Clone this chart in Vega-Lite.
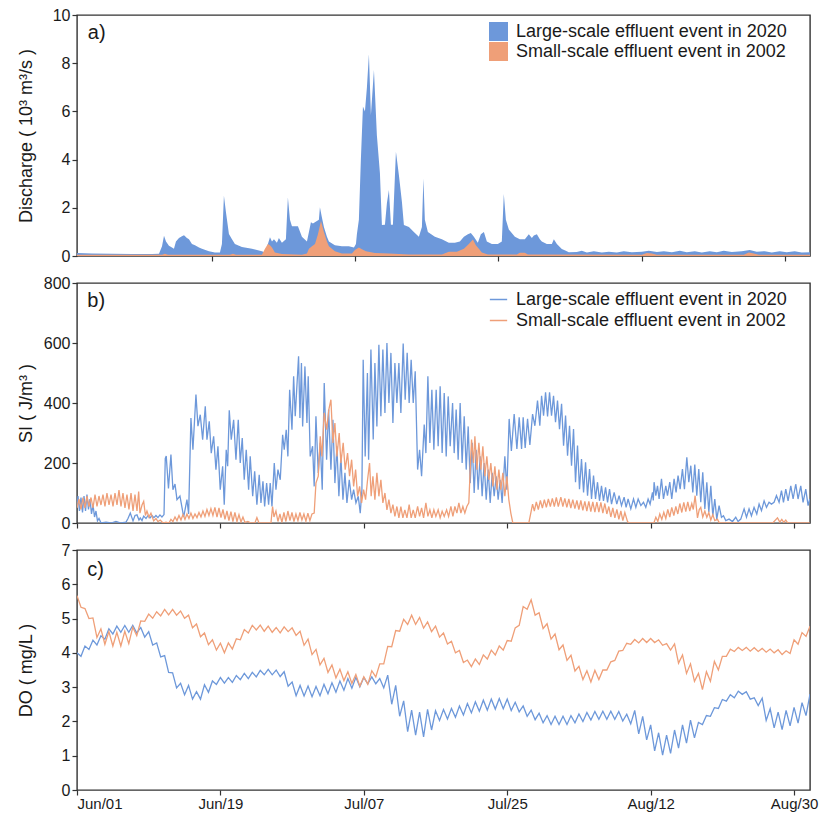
{
"$schema":"https://vega.github.io/schema/vega-lite/v6.json",
"padding":{"left":16,"top":6,"right":8,"bottom":0},
"background":"white",
"config":{"font":"Liberation Sans","view":{"stroke":"#333333","strokeWidth":1.4},
"axis":{"labelFontSize":16,"titleFontSize":18,"labelColor":"#1a1a1a","titleColor":"#1a1a1a","titleFontWeight":"normal","tickColor":"#333333","tickSize":5,"tickWidth":1.2,"domain":false,"grid":false,"labelPadding":2,"labelOverlap":false},
"axisX":{"labelFontSize":15,"labelPadding":1},
"legend":{"labelFontSize":18,"labelColor":"#1a1a1a","padding":0,"labelLimit":400},
"text":{"font":"Liberation Sans"}},
"spacing":27,
"bounds":"flush",
"resolve":{"scale":{"color":"independent","x":"independent","y":"independent"},"legend":{"color":"independent"}},
"datasets":{
"a":[
{"t":1.1,"v":0.12,"s":"L"},{"t":2.98,"v":0.10,"s":"L"},{"t":5.49,"v":0.09,"s":"L"},{"t":8.0,"v":0.08,"s":"L"},{"t":10.51,"v":0.08,"s":"L"},{"t":11.39,"v":0.09,"s":"L"},{"t":11.77,"v":0.4,"s":"L"},{"t":12.02,"v":0.84,"s":"L"},{"t":12.27,"v":0.6,"s":"L"},{"t":12.64,"v":0.43,"s":"L"},{"t":13.02,"v":0.35,"s":"L"},{"t":13.27,"v":0.3,"s":"L"},{"t":13.52,"v":0.6,"s":"L"},{"t":13.9,"v":0.75,"s":"L"},{"t":14.27,"v":0.82,"s":"L"},{"t":14.53,"v":0.86,"s":"L"},{"t":14.9,"v":0.75,"s":"L"},{"t":15.15,"v":0.7,"s":"L"},{"t":15.53,"v":0.5,"s":"L"},{"t":15.91,"v":0.45,"s":"L"},{"t":16.41,"v":0.35,"s":"L"},{"t":16.78,"v":0.3,"s":"L"},{"t":17.66,"v":0.2,"s":"L"},{"t":18.41,"v":0.15,"s":"L"},{"t":19.04,"v":0.15,"s":"L"},{"t":19.29,"v":0.5,"s":"L"},{"t":19.54,"v":2.5,"s":"L"},{"t":19.8,"v":1.8,"s":"L"},{"t":20.17,"v":0.91,"s":"L"},{"t":20.55,"v":0.7,"s":"L"},{"t":20.92,"v":0.5,"s":"L"},{"t":21.8,"v":0.37,"s":"L"},{"t":23.06,"v":0.3,"s":"L"},{"t":24.31,"v":0.2,"s":"L"},{"t":24.69,"v":0.15,"s":"L"},{"t":25.06,"v":0.5,"s":"L"},{"t":25.32,"v":0.78,"s":"L"},{"t":25.57,"v":0.6,"s":"L"},{"t":25.82,"v":0.7,"s":"L"},{"t":26.19,"v":0.55,"s":"L"},{"t":26.44,"v":0.75,"s":"L"},{"t":26.82,"v":0.55,"s":"L"},{"t":27.32,"v":0.7,"s":"L"},{"t":27.57,"v":2.43,"s":"L"},{"t":27.83,"v":1.5,"s":"L"},{"t":28.08,"v":1.23,"s":"L"},{"t":28.83,"v":1.23,"s":"L"},{"t":29.33,"v":0.8,"s":"L"},{"t":29.96,"v":0.6,"s":"L"},{"t":30.21,"v":1.0,"s":"L"},{"t":30.46,"v":1.4,"s":"L"},{"t":30.71,"v":1.35,"s":"L"},{"t":31.21,"v":1.45,"s":"L"},{"t":31.46,"v":1.5,"s":"L"},{"t":31.59,"v":2.02,"s":"L"},{"t":31.84,"v":1.6,"s":"L"},{"t":32.09,"v":1.2,"s":"L"},{"t":32.47,"v":0.8,"s":"L"},{"t":32.72,"v":0.6,"s":"L"},{"t":33.47,"v":0.45,"s":"L"},{"t":34.35,"v":0.4,"s":"L"},{"t":35.23,"v":0.4,"s":"L"},{"t":35.86,"v":0.35,"s":"L"},{"t":36.11,"v":0.5,"s":"L"},{"t":36.23,"v":0.9,"s":"L"},{"t":36.48,"v":1.5,"s":"L"},{"t":36.73,"v":4.0,"s":"L"},{"t":36.99,"v":6.2,"s":"L"},{"t":37.24,"v":6.0,"s":"L"},{"t":37.49,"v":7.0,"s":"L"},{"t":37.74,"v":8.37,"s":"L"},{"t":37.99,"v":5.85,"s":"L"},{"t":38.37,"v":7.72,"s":"L"},{"t":38.74,"v":5.0,"s":"L"},{"t":39.12,"v":3.44,"s":"L"},{"t":39.37,"v":1.29,"s":"L"},{"t":39.75,"v":1.3,"s":"L"},{"t":40.0,"v":2.2,"s":"L"},{"t":40.25,"v":2.74,"s":"L"},{"t":40.5,"v":1.3,"s":"L"},{"t":40.75,"v":1.3,"s":"L"},{"t":41.13,"v":4.33,"s":"L"},{"t":41.5,"v":3.36,"s":"L"},{"t":41.88,"v":2.25,"s":"L"},{"t":42.13,"v":1.29,"s":"L"},{"t":42.76,"v":1.2,"s":"L"},{"t":43.38,"v":1.0,"s":"L"},{"t":44.01,"v":0.8,"s":"L"},{"t":44.39,"v":1.2,"s":"L"},{"t":44.58,"v":3.22,"s":"L"},{"t":44.76,"v":1.5,"s":"L"},{"t":45.14,"v":1.0,"s":"L"},{"t":46.02,"v":0.8,"s":"L"},{"t":46.9,"v":0.7,"s":"L"},{"t":47.77,"v":0.55,"s":"L"},{"t":48.53,"v":0.55,"s":"L"},{"t":49.15,"v":0.6,"s":"L"},{"t":49.66,"v":0.8,"s":"L"},{"t":50.16,"v":0.9,"s":"L"},{"t":50.53,"v":0.95,"s":"L"},{"t":50.91,"v":0.8,"s":"L"},{"t":51.41,"v":0.55,"s":"L"},{"t":51.79,"v":0.9,"s":"L"},{"t":52.17,"v":1.0,"s":"L"},{"t":52.54,"v":0.6,"s":"L"},{"t":53.17,"v":0.5,"s":"L"},{"t":53.92,"v":0.5,"s":"L"},{"t":54.42,"v":0.6,"s":"L"},{"t":54.67,"v":2.57,"s":"L"},{"t":54.93,"v":1.5,"s":"L"},{"t":55.3,"v":1.1,"s":"L"},{"t":56.06,"v":0.8,"s":"L"},{"t":56.68,"v":0.7,"s":"L"},{"t":57.31,"v":0.7,"s":"L"},{"t":57.81,"v":0.9,"s":"L"},{"t":58.19,"v":0.75,"s":"L"},{"t":58.44,"v":0.85,"s":"L"},{"t":58.82,"v":0.9,"s":"L"},{"t":59.19,"v":0.7,"s":"L"},{"t":59.44,"v":0.6,"s":"L"},{"t":60.07,"v":0.5,"s":"L"},{"t":60.7,"v":0.5,"s":"L"},{"t":60.95,"v":0.7,"s":"L"},{"t":61.33,"v":0.5,"s":"L"},{"t":61.95,"v":0.29,"s":"L"},{"t":62.45,"v":0.22,"s":"L"},{"t":62.83,"v":0.16,"s":"L"},{"t":63.83,"v":0.17,"s":"L"},{"t":64.46,"v":0.22,"s":"L"},{"t":65.09,"v":0.15,"s":"L"},{"t":65.97,"v":0.2,"s":"L"},{"t":66.97,"v":0.15,"s":"L"},{"t":67.85,"v":0.18,"s":"L"},{"t":68.85,"v":0.15,"s":"L"},{"t":69.73,"v":0.2,"s":"L"},{"t":70.74,"v":0.16,"s":"L"},{"t":71.99,"v":0.18,"s":"L"},{"t":72.87,"v":0.22,"s":"L"},{"t":73.88,"v":0.17,"s":"L"},{"t":74.76,"v":0.2,"s":"L"},{"t":75.76,"v":0.16,"s":"L"},{"t":76.77,"v":0.22,"s":"L"},{"t":77.63,"v":0.16,"s":"L"},{"t":78.64,"v":0.2,"s":"L"},{"t":79.52,"v":0.15,"s":"L"},{"t":80.52,"v":0.2,"s":"L"},{"t":81.4,"v":0.16,"s":"L"},{"t":82.28,"v":0.22,"s":"L"},{"t":83.28,"v":0.17,"s":"L"},{"t":84.54,"v":0.2,"s":"L"},{"t":85.54,"v":0.25,"s":"L"},{"t":86.42,"v":0.18,"s":"L"},{"t":87.42,"v":0.2,"s":"L"},{"t":88.3,"v":0.15,"s":"L"},{"t":89.3,"v":0.2,"s":"L"},{"t":90.18,"v":0.16,"s":"L"},{"t":91.18,"v":0.2,"s":"L"},{"t":92.06,"v":0.15,"s":"L"},{"t":93.1,"v":0.16,"s":"L"},
{"t":1.1,"v":0.05,"s":"S"},{"t":11.77,"v":0.05,"s":"S"},{"t":12.14,"v":0.09,"s":"S"},{"t":12.52,"v":0.05,"s":"S"},{"t":20.3,"v":0.05,"s":"S"},{"t":20.67,"v":0.09,"s":"S"},{"t":21.05,"v":0.05,"s":"S"},{"t":24.31,"v":0.05,"s":"S"},{"t":24.69,"v":0.3,"s":"S"},{"t":25.06,"v":0.5,"s":"S"},{"t":25.32,"v":0.45,"s":"S"},{"t":25.57,"v":0.35,"s":"S"},{"t":25.94,"v":0.15,"s":"S"},{"t":26.82,"v":0.08,"s":"S"},{"t":29.33,"v":0.05,"s":"S"},{"t":29.96,"v":0.1,"s":"S"},{"t":30.21,"v":0.3,"s":"S"},{"t":30.59,"v":0.4,"s":"S"},{"t":30.97,"v":0.5,"s":"S"},{"t":31.34,"v":0.9,"s":"S"},{"t":31.72,"v":1.45,"s":"S"},{"t":32.09,"v":1.0,"s":"S"},{"t":32.47,"v":0.6,"s":"S"},{"t":32.72,"v":0.4,"s":"S"},{"t":33.47,"v":0.2,"s":"S"},{"t":34.35,"v":0.1,"s":"S"},{"t":35.6,"v":0.1,"s":"S"},{"t":35.98,"v":0.25,"s":"S"},{"t":36.48,"v":0.35,"s":"S"},{"t":36.86,"v":0.28,"s":"S"},{"t":37.36,"v":0.2,"s":"S"},{"t":38.49,"v":0.12,"s":"S"},{"t":40.25,"v":0.1,"s":"S"},{"t":42.76,"v":0.06,"s":"S"},{"t":46.9,"v":0.06,"s":"S"},{"t":47.77,"v":0.18,"s":"S"},{"t":48.78,"v":0.18,"s":"S"},{"t":49.66,"v":0.3,"s":"S"},{"t":50.28,"v":0.5,"s":"S"},{"t":50.79,"v":0.68,"s":"S"},{"t":51.16,"v":0.45,"s":"S"},{"t":51.54,"v":0.3,"s":"S"},{"t":51.91,"v":0.15,"s":"S"},{"t":52.67,"v":0.06,"s":"S"},{"t":56.31,"v":0.06,"s":"S"},{"t":56.68,"v":0.14,"s":"S"},{"t":57.31,"v":0.14,"s":"S"},{"t":57.69,"v":0.06,"s":"S"},{"t":71.99,"v":0.05,"s":"S"},{"t":72.62,"v":0.12,"s":"S"},{"t":73.25,"v":0.1,"s":"S"},{"t":73.88,"v":0.05,"s":"S"},{"t":84.79,"v":0.05,"s":"S"},{"t":85.42,"v":0.15,"s":"S"},{"t":86.04,"v":0.1,"s":"S"},{"t":86.67,"v":0.05,"s":"S"},{"t":93.1,"v":0.05,"s":"S"}
],
"b":[
{"t":0,"v":60,"s":"L"},{"t":0.13,"v":90,"s":"L"},{"t":0.31,"v":40,"s":"L"},{"t":0.5,"v":85,"s":"L"},{"t":0.69,"v":35,"s":"L"},{"t":0.88,"v":90,"s":"L"},{"t":1.07,"v":40,"s":"L"},{"t":1.25,"v":95,"s":"L"},{"t":1.44,"v":45,"s":"L"},{"t":1.63,"v":80,"s":"L"},{"t":1.82,"v":30,"s":"L"},{"t":2.01,"v":60,"s":"L"},{"t":2.2,"v":20,"s":"L"},{"t":2.38,"v":40,"s":"L"},{"t":2.57,"v":7,"s":"L"},{"t":2.76,"v":15,"s":"L"},{"t":3.01,"v":0,"s":"L"},{"t":3.64,"v":3,"s":"L"},{"t":4.27,"v":0,"s":"L"},{"t":4.89,"v":5,"s":"L"},{"t":5.52,"v":0,"s":"L"},{"t":6.15,"v":3,"s":"L"},{"t":6.4,"v":15,"s":"L"},{"t":6.69,"v":33,"s":"L"},{"t":7.03,"v":7,"s":"L"},{"t":7.28,"v":25,"s":"L"},{"t":7.53,"v":27,"s":"L"},{"t":7.78,"v":10,"s":"L"},{"t":7.94,"v":17,"s":"L"},{"t":8.16,"v":8,"s":"L"},{"t":8.37,"v":23,"s":"L"},{"t":8.66,"v":15,"s":"L"},{"t":8.91,"v":25,"s":"L"},{"t":9.16,"v":17,"s":"L"},{"t":9.41,"v":25,"s":"L"},{"t":9.66,"v":18,"s":"L"},{"t":9.91,"v":25,"s":"L"},{"t":10.16,"v":18,"s":"L"},{"t":10.41,"v":27,"s":"L"},{"t":10.66,"v":20,"s":"L"},{"t":10.92,"v":28,"s":"L"},{"t":11.08,"v":215,"s":"L"},{"t":11.2,"v":223,"s":"L"},{"t":11.48,"v":115,"s":"L"},{"t":11.79,"v":228,"s":"L"},{"t":12.04,"v":111,"s":"L"},{"t":12.3,"v":130,"s":"L"},{"t":12.55,"v":78,"s":"L"},{"t":12.92,"v":90,"s":"L"},{"t":13.39,"v":20,"s":"L"},{"t":13.8,"v":78,"s":"L"},{"t":14.01,"v":30,"s":"L"},{"t":14.3,"v":350,"s":"L"},{"t":14.55,"v":244,"s":"L"},{"t":14.93,"v":428,"s":"L"},{"t":15.18,"v":323,"s":"L"},{"t":15.47,"v":361,"s":"L"},{"t":15.77,"v":278,"s":"L"},{"t":16.1,"v":389,"s":"L"},{"t":16.31,"v":278,"s":"L"},{"t":16.6,"v":339,"s":"L"},{"t":16.85,"v":233,"s":"L"},{"t":17.15,"v":289,"s":"L"},{"t":17.44,"v":178,"s":"L"},{"t":17.69,"v":256,"s":"L"},{"t":17.98,"v":111,"s":"L"},{"t":18.28,"v":189,"s":"L"},{"t":18.48,"v":61,"s":"L"},{"t":18.73,"v":244,"s":"L"},{"t":18.91,"v":189,"s":"L"},{"t":19.11,"v":376,"s":"L"},{"t":19.36,"v":278,"s":"L"},{"t":19.66,"v":344,"s":"L"},{"t":19.95,"v":211,"s":"L"},{"t":20.24,"v":344,"s":"L"},{"t":20.49,"v":200,"s":"L"},{"t":20.74,"v":283,"s":"L"},{"t":20.99,"v":144,"s":"L"},{"t":21.24,"v":244,"s":"L"},{"t":21.54,"v":111,"s":"L"},{"t":21.74,"v":222,"s":"L"},{"t":22.05,"v":89,"s":"L"},{"t":22.3,"v":172,"s":"L"},{"t":22.58,"v":61,"s":"L"},{"t":22.87,"v":161,"s":"L"},{"t":23.09,"v":67,"s":"L"},{"t":23.34,"v":139,"s":"L"},{"t":23.55,"v":55,"s":"L"},{"t":23.8,"v":133,"s":"L"},{"t":24.05,"v":61,"s":"L"},{"t":24.25,"v":133,"s":"L"},{"t":24.47,"v":55,"s":"L"},{"t":24.76,"v":200,"s":"L"},{"t":24.97,"v":111,"s":"L"},{"t":25.22,"v":178,"s":"L"},{"t":25.51,"v":144,"s":"L"},{"t":25.81,"v":294,"s":"L"},{"t":26.01,"v":244,"s":"L"},{"t":26.26,"v":311,"s":"L"},{"t":26.47,"v":222,"s":"L"},{"t":26.69,"v":444,"s":"L"},{"t":26.98,"v":311,"s":"L"},{"t":27.19,"v":489,"s":"L"},{"t":27.39,"v":356,"s":"L"},{"t":27.81,"v":556,"s":"L"},{"t":27.98,"v":350,"s":"L"},{"t":28.17,"v":533,"s":"L"},{"t":28.32,"v":322,"s":"L"},{"t":28.61,"v":522,"s":"L"},{"t":28.86,"v":333,"s":"L"},{"t":29.02,"v":489,"s":"L"},{"t":29.27,"v":222,"s":"L"},{"t":29.57,"v":256,"s":"L"},{"t":29.77,"v":122,"s":"L"},{"t":29.99,"v":356,"s":"L"},{"t":30.28,"v":167,"s":"L"},{"t":30.53,"v":267,"s":"L"},{"t":30.78,"v":111,"s":"L"},{"t":31.03,"v":467,"s":"L"},{"t":31.33,"v":211,"s":"L"},{"t":31.58,"v":378,"s":"L"},{"t":31.87,"v":178,"s":"L"},{"t":32.12,"v":344,"s":"L"},{"t":32.37,"v":133,"s":"L"},{"t":32.62,"v":256,"s":"L"},{"t":32.87,"v":89,"s":"L"},{"t":33.12,"v":222,"s":"L"},{"t":33.38,"v":78,"s":"L"},{"t":33.63,"v":167,"s":"L"},{"t":33.88,"v":67,"s":"L"},{"t":34.17,"v":144,"s":"L"},{"t":34.47,"v":78,"s":"L"},{"t":34.72,"v":111,"s":"L"},{"t":35.01,"v":67,"s":"L"},{"t":35.3,"v":89,"s":"L"},{"t":35.55,"v":33,"s":"L"},{"t":35.76,"v":111,"s":"L"},{"t":35.92,"v":544,"s":"L"},{"t":36.17,"v":222,"s":"L"},{"t":36.45,"v":500,"s":"L"},{"t":36.6,"v":211,"s":"L"},{"t":36.89,"v":578,"s":"L"},{"t":37.18,"v":278,"s":"L"},{"t":37.39,"v":533,"s":"L"},{"t":37.64,"v":322,"s":"L"},{"t":37.89,"v":594,"s":"L"},{"t":38.14,"v":356,"s":"L"},{"t":38.39,"v":578,"s":"L"},{"t":38.65,"v":367,"s":"L"},{"t":38.9,"v":600,"s":"L"},{"t":39.15,"v":400,"s":"L"},{"t":39.4,"v":567,"s":"L"},{"t":39.65,"v":333,"s":"L"},{"t":39.9,"v":533,"s":"L"},{"t":40.15,"v":400,"s":"L"},{"t":40.4,"v":533,"s":"L"},{"t":40.65,"v":367,"s":"L"},{"t":40.94,"v":598,"s":"L"},{"t":41.19,"v":411,"s":"L"},{"t":41.44,"v":567,"s":"L"},{"t":41.69,"v":400,"s":"L"},{"t":41.94,"v":544,"s":"L"},{"t":42.2,"v":400,"s":"L"},{"t":42.45,"v":506,"s":"L"},{"t":42.75,"v":178,"s":"L"},{"t":43.0,"v":244,"s":"L"},{"t":43.25,"v":156,"s":"L"},{"t":43.58,"v":328,"s":"L"},{"t":43.79,"v":233,"s":"L"},{"t":44.04,"v":489,"s":"L"},{"t":44.29,"v":267,"s":"L"},{"t":44.54,"v":444,"s":"L"},{"t":44.79,"v":244,"s":"L"},{"t":45.08,"v":444,"s":"L"},{"t":45.33,"v":256,"s":"L"},{"t":45.58,"v":456,"s":"L"},{"t":45.83,"v":233,"s":"L"},{"t":46.09,"v":433,"s":"L"},{"t":46.34,"v":222,"s":"L"},{"t":46.59,"v":422,"s":"L"},{"t":46.84,"v":256,"s":"L"},{"t":47.14,"v":400,"s":"L"},{"t":47.34,"v":233,"s":"L"},{"t":47.59,"v":378,"s":"L"},{"t":47.84,"v":211,"s":"L"},{"t":48.09,"v":400,"s":"L"},{"t":48.34,"v":200,"s":"L"},{"t":48.6,"v":356,"s":"L"},{"t":48.85,"v":178,"s":"L"},{"t":49.1,"v":322,"s":"L"},{"t":49.35,"v":133,"s":"L"},{"t":49.6,"v":267,"s":"L"},{"t":49.85,"v":100,"s":"L"},{"t":50.1,"v":244,"s":"L"},{"t":50.35,"v":111,"s":"L"},{"t":50.6,"v":222,"s":"L"},{"t":50.85,"v":89,"s":"L"},{"t":51.1,"v":200,"s":"L"},{"t":51.36,"v":78,"s":"L"},{"t":51.61,"v":178,"s":"L"},{"t":51.86,"v":67,"s":"L"},{"t":52.11,"v":167,"s":"L"},{"t":52.36,"v":89,"s":"L"},{"t":52.61,"v":156,"s":"L"},{"t":52.86,"v":78,"s":"L"},{"t":53.11,"v":144,"s":"L"},{"t":53.36,"v":67,"s":"L"},{"t":53.7,"v":222,"s":"L"},{"t":53.95,"v":111,"s":"L"},{"t":54.24,"v":347,"s":"L"},{"t":54.52,"v":240,"s":"L"},{"t":54.87,"v":363,"s":"L"},{"t":55.21,"v":247,"s":"L"},{"t":55.5,"v":352,"s":"L"},{"t":55.8,"v":247,"s":"L"},{"t":56.0,"v":352,"s":"L"},{"t":56.25,"v":250,"s":"L"},{"t":56.55,"v":347,"s":"L"},{"t":56.84,"v":260,"s":"L"},{"t":57.18,"v":363,"s":"L"},{"t":57.47,"v":324,"s":"L"},{"t":57.8,"v":408,"s":"L"},{"t":58.09,"v":324,"s":"L"},{"t":58.31,"v":424,"s":"L"},{"t":58.56,"v":358,"s":"L"},{"t":58.81,"v":436,"s":"L"},{"t":59.06,"v":355,"s":"L"},{"t":59.31,"v":436,"s":"L"},{"t":59.56,"v":358,"s":"L"},{"t":59.81,"v":424,"s":"L"},{"t":60.06,"v":336,"s":"L"},{"t":60.31,"v":408,"s":"L"},{"t":60.56,"v":313,"s":"L"},{"t":60.82,"v":397,"s":"L"},{"t":61.07,"v":258,"s":"L"},{"t":61.32,"v":358,"s":"L"},{"t":61.57,"v":224,"s":"L"},{"t":61.82,"v":324,"s":"L"},{"t":62.07,"v":191,"s":"L"},{"t":62.32,"v":313,"s":"L"},{"t":62.57,"v":136,"s":"L"},{"t":62.82,"v":258,"s":"L"},{"t":63.07,"v":113,"s":"L"},{"t":63.32,"v":213,"s":"L"},{"t":63.58,"v":102,"s":"L"},{"t":63.83,"v":202,"s":"L"},{"t":64.08,"v":91,"s":"L"},{"t":64.33,"v":180,"s":"L"},{"t":64.58,"v":80,"s":"L"},{"t":64.83,"v":158,"s":"L"},{"t":65.08,"v":80,"s":"L"},{"t":65.33,"v":136,"s":"L"},{"t":65.58,"v":74,"s":"L"},{"t":65.83,"v":124,"s":"L"},{"t":66.08,"v":74,"s":"L"},{"t":66.34,"v":119,"s":"L"},{"t":66.59,"v":69,"s":"L"},{"t":66.84,"v":113,"s":"L"},{"t":67.09,"v":63,"s":"L"},{"t":67.42,"v":102,"s":"L"},{"t":67.75,"v":63,"s":"L"},{"t":68.04,"v":91,"s":"L"},{"t":68.34,"v":58,"s":"L"},{"t":68.67,"v":86,"s":"L"},{"t":68.92,"v":52,"s":"L"},{"t":69.17,"v":80,"s":"L"},{"t":69.51,"v":47,"s":"L"},{"t":69.85,"v":80,"s":"L"},{"t":70.14,"v":52,"s":"L"},{"t":70.43,"v":80,"s":"L"},{"t":70.77,"v":58,"s":"L"},{"t":71.1,"v":69,"s":"L"},{"t":71.39,"v":52,"s":"L"},{"t":71.68,"v":80,"s":"L"},{"t":71.93,"v":63,"s":"L"},{"t":72.23,"v":102,"s":"L"},{"t":72.33,"v":75,"s":"L"},{"t":72.43,"v":136,"s":"L"},{"t":72.65,"v":91,"s":"L"},{"t":72.86,"v":124,"s":"L"},{"t":73.06,"v":80,"s":"L"},{"t":73.36,"v":147,"s":"L"},{"t":73.61,"v":80,"s":"L"},{"t":73.9,"v":124,"s":"L"},{"t":74.11,"v":91,"s":"L"},{"t":74.4,"v":136,"s":"L"},{"t":74.65,"v":80,"s":"L"},{"t":74.94,"v":147,"s":"L"},{"t":75.19,"v":102,"s":"L"},{"t":75.44,"v":158,"s":"L"},{"t":75.7,"v":113,"s":"L"},{"t":75.99,"v":180,"s":"L"},{"t":76.24,"v":113,"s":"L"},{"t":76.54,"v":219,"s":"L"},{"t":76.79,"v":136,"s":"L"},{"t":77.04,"v":191,"s":"L"},{"t":77.29,"v":102,"s":"L"},{"t":77.54,"v":195,"s":"L"},{"t":77.79,"v":91,"s":"L"},{"t":78.04,"v":180,"s":"L"},{"t":78.29,"v":69,"s":"L"},{"t":78.54,"v":169,"s":"L"},{"t":78.8,"v":47,"s":"L"},{"t":79.05,"v":136,"s":"L"},{"t":79.3,"v":36,"s":"L"},{"t":79.55,"v":124,"s":"L"},{"t":79.8,"v":24,"s":"L"},{"t":80.05,"v":80,"s":"L"},{"t":80.3,"v":13,"s":"L"},{"t":80.59,"v":58,"s":"L"},{"t":80.89,"v":19,"s":"L"},{"t":81.14,"v":24,"s":"L"},{"t":81.43,"v":8,"s":"L"},{"t":81.84,"v":13,"s":"L"},{"t":82.27,"v":5,"s":"L"},{"t":82.68,"v":19,"s":"L"},{"t":82.97,"v":5,"s":"L"},{"t":83.31,"v":13,"s":"L"},{"t":83.73,"v":47,"s":"L"},{"t":84.03,"v":19,"s":"L"},{"t":84.35,"v":47,"s":"L"},{"t":84.65,"v":24,"s":"L"},{"t":84.98,"v":52,"s":"L"},{"t":85.32,"v":30,"s":"L"},{"t":85.61,"v":63,"s":"L"},{"t":85.91,"v":41,"s":"L"},{"t":86.24,"v":74,"s":"L"},{"t":86.54,"v":52,"s":"L"},{"t":86.86,"v":69,"s":"L"},{"t":87.16,"v":63,"s":"L"},{"t":87.49,"v":69,"s":"L"},{"t":87.79,"v":91,"s":"L"},{"t":88.12,"v":69,"s":"L"},{"t":88.42,"v":108,"s":"L"},{"t":88.67,"v":69,"s":"L"},{"t":88.96,"v":113,"s":"L"},{"t":89.25,"v":74,"s":"L"},{"t":89.59,"v":124,"s":"L"},{"t":89.88,"v":80,"s":"L"},{"t":90.21,"v":130,"s":"L"},{"t":90.5,"v":80,"s":"L"},{"t":90.84,"v":124,"s":"L"},{"t":91.13,"v":69,"s":"L"},{"t":91.47,"v":113,"s":"L"},{"t":91.76,"v":58,"s":"L"},{"t":91.97,"v":80,"s":"L"},
{"t":0,"v":50,"s":"S"},{"t":0.25,"v":80,"s":"S"},{"t":0.5,"v":45,"s":"S"},{"t":0.75,"v":85,"s":"S"},{"t":1.0,"v":50,"s":"S"},{"t":1.25,"v":90,"s":"S"},{"t":1.51,"v":55,"s":"S"},{"t":1.76,"v":85,"s":"S"},{"t":2.01,"v":50,"s":"S"},{"t":2.26,"v":95,"s":"S"},{"t":2.51,"v":55,"s":"S"},{"t":2.76,"v":90,"s":"S"},{"t":3.01,"v":60,"s":"S"},{"t":3.26,"v":95,"s":"S"},{"t":3.51,"v":55,"s":"S"},{"t":3.76,"v":100,"s":"S"},{"t":4.02,"v":60,"s":"S"},{"t":4.27,"v":95,"s":"S"},{"t":4.52,"v":55,"s":"S"},{"t":4.77,"v":100,"s":"S"},{"t":5.02,"v":60,"s":"S"},{"t":5.27,"v":110,"s":"S"},{"t":5.52,"v":55,"s":"S"},{"t":5.77,"v":100,"s":"S"},{"t":6.02,"v":50,"s":"S"},{"t":6.27,"v":95,"s":"S"},{"t":6.52,"v":45,"s":"S"},{"t":6.78,"v":100,"s":"S"},{"t":7.03,"v":40,"s":"S"},{"t":7.28,"v":95,"s":"S"},{"t":7.53,"v":40,"s":"S"},{"t":7.74,"v":105,"s":"S"},{"t":7.9,"v":33,"s":"S"},{"t":8.16,"v":60,"s":"S"},{"t":8.37,"v":72,"s":"S"},{"t":8.59,"v":25,"s":"S"},{"t":8.78,"v":40,"s":"S"},{"t":9.03,"v":20,"s":"S"},{"t":9.28,"v":33,"s":"S"},{"t":9.62,"v":7,"s":"S"},{"t":9.91,"v":15,"s":"S"},{"t":10.16,"v":5,"s":"S"},{"t":10.45,"v":10,"s":"S"},{"t":10.79,"v":0,"s":"S"},{"t":11.17,"v":3,"s":"S"},{"t":11.54,"v":0,"s":"S"},{"t":11.79,"v":12,"s":"S"},{"t":12.04,"v":5,"s":"S"},{"t":12.3,"v":20,"s":"S"},{"t":12.55,"v":8,"s":"S"},{"t":12.8,"v":25,"s":"S"},{"t":13.05,"v":10,"s":"S"},{"t":13.3,"v":28,"s":"S"},{"t":13.55,"v":12,"s":"S"},{"t":13.8,"v":30,"s":"S"},{"t":14.05,"v":15,"s":"S"},{"t":14.3,"v":33,"s":"S"},{"t":14.55,"v":15,"s":"S"},{"t":14.81,"v":30,"s":"S"},{"t":15.06,"v":18,"s":"S"},{"t":15.31,"v":35,"s":"S"},{"t":15.56,"v":20,"s":"S"},{"t":15.81,"v":40,"s":"S"},{"t":16.06,"v":22,"s":"S"},{"t":16.31,"v":45,"s":"S"},{"t":16.56,"v":25,"s":"S"},{"t":16.81,"v":48,"s":"S"},{"t":17.06,"v":25,"s":"S"},{"t":17.31,"v":52,"s":"S"},{"t":17.57,"v":20,"s":"S"},{"t":17.82,"v":50,"s":"S"},{"t":18.07,"v":18,"s":"S"},{"t":18.32,"v":45,"s":"S"},{"t":18.57,"v":12,"s":"S"},{"t":18.82,"v":40,"s":"S"},{"t":19.07,"v":8,"s":"S"},{"t":19.32,"v":38,"s":"S"},{"t":19.57,"v":5,"s":"S"},{"t":19.82,"v":35,"s":"S"},{"t":20.08,"v":5,"s":"S"},{"t":20.33,"v":28,"s":"S"},{"t":20.58,"v":3,"s":"S"},{"t":20.83,"v":20,"s":"S"},{"t":21.08,"v":2,"s":"S"},{"t":21.45,"v":5,"s":"S"},{"t":21.83,"v":0,"s":"S"},{"t":22.33,"v":0,"s":"S"},{"t":22.58,"v":18,"s":"S"},{"t":22.84,"v":0,"s":"S"},{"t":24.34,"v":0,"s":"S"},{"t":24.55,"v":55,"s":"S"},{"t":24.72,"v":20,"s":"S"},{"t":24.97,"v":40,"s":"S"},{"t":25.22,"v":5,"s":"S"},{"t":25.47,"v":30,"s":"S"},{"t":25.72,"v":2,"s":"S"},{"t":25.97,"v":35,"s":"S"},{"t":26.22,"v":5,"s":"S"},{"t":26.47,"v":40,"s":"S"},{"t":26.73,"v":8,"s":"S"},{"t":26.98,"v":35,"s":"S"},{"t":27.23,"v":5,"s":"S"},{"t":27.48,"v":30,"s":"S"},{"t":27.73,"v":8,"s":"S"},{"t":27.98,"v":35,"s":"S"},{"t":28.23,"v":10,"s":"S"},{"t":28.48,"v":30,"s":"S"},{"t":28.73,"v":6,"s":"S"},{"t":28.98,"v":33,"s":"S"},{"t":29.23,"v":8,"s":"S"},{"t":29.49,"v":30,"s":"S"},{"t":29.77,"v":33,"s":"S"},{"t":29.99,"v":133,"s":"S"},{"t":30.28,"v":156,"s":"S"},{"t":30.53,"v":289,"s":"S"},{"t":30.74,"v":222,"s":"S"},{"t":31.03,"v":367,"s":"S"},{"t":31.33,"v":311,"s":"S"},{"t":31.62,"v":380,"s":"S"},{"t":31.87,"v":411,"s":"S"},{"t":32.12,"v":267,"s":"S"},{"t":32.37,"v":333,"s":"S"},{"t":32.62,"v":222,"s":"S"},{"t":32.91,"v":300,"s":"S"},{"t":33.12,"v":200,"s":"S"},{"t":33.41,"v":267,"s":"S"},{"t":33.66,"v":178,"s":"S"},{"t":33.96,"v":233,"s":"S"},{"t":34.21,"v":156,"s":"S"},{"t":34.47,"v":211,"s":"S"},{"t":34.72,"v":122,"s":"S"},{"t":34.97,"v":178,"s":"S"},{"t":35.22,"v":89,"s":"S"},{"t":35.47,"v":122,"s":"S"},{"t":35.72,"v":67,"s":"S"},{"t":35.97,"v":111,"s":"S"},{"t":36.22,"v":78,"s":"S"},{"t":36.47,"v":144,"s":"S"},{"t":36.72,"v":200,"s":"S"},{"t":36.92,"v":89,"s":"S"},{"t":37.14,"v":156,"s":"S"},{"t":37.39,"v":78,"s":"S"},{"t":37.64,"v":167,"s":"S"},{"t":37.89,"v":89,"s":"S"},{"t":38.14,"v":144,"s":"S"},{"t":38.39,"v":67,"s":"S"},{"t":38.65,"v":100,"s":"S"},{"t":38.9,"v":44,"s":"S"},{"t":39.15,"v":78,"s":"S"},{"t":39.4,"v":33,"s":"S"},{"t":39.65,"v":61,"s":"S"},{"t":39.9,"v":22,"s":"S"},{"t":40.15,"v":55,"s":"S"},{"t":40.4,"v":17,"s":"S"},{"t":40.65,"v":55,"s":"S"},{"t":40.9,"v":17,"s":"S"},{"t":41.15,"v":44,"s":"S"},{"t":41.41,"v":17,"s":"S"},{"t":41.69,"v":61,"s":"S"},{"t":41.94,"v":17,"s":"S"},{"t":42.2,"v":44,"s":"S"},{"t":42.45,"v":17,"s":"S"},{"t":42.75,"v":55,"s":"S"},{"t":43.0,"v":22,"s":"S"},{"t":43.25,"v":50,"s":"S"},{"t":43.5,"v":17,"s":"S"},{"t":43.79,"v":67,"s":"S"},{"t":44.04,"v":22,"s":"S"},{"t":44.29,"v":44,"s":"S"},{"t":44.54,"v":17,"s":"S"},{"t":44.79,"v":44,"s":"S"},{"t":45.04,"v":22,"s":"S"},{"t":45.33,"v":44,"s":"S"},{"t":45.58,"v":17,"s":"S"},{"t":45.83,"v":39,"s":"S"},{"t":46.09,"v":22,"s":"S"},{"t":46.39,"v":44,"s":"S"},{"t":46.64,"v":22,"s":"S"},{"t":46.93,"v":55,"s":"S"},{"t":47.18,"v":22,"s":"S"},{"t":47.43,"v":55,"s":"S"},{"t":47.68,"v":33,"s":"S"},{"t":47.93,"v":67,"s":"S"},{"t":48.18,"v":33,"s":"S"},{"t":48.43,"v":55,"s":"S"},{"t":48.68,"v":33,"s":"S"},{"t":48.93,"v":55,"s":"S"},{"t":49.18,"v":67,"s":"S"},{"t":49.35,"v":178,"s":"S"},{"t":49.52,"v":278,"s":"S"},{"t":49.77,"v":200,"s":"S"},{"t":49.94,"v":289,"s":"S"},{"t":50.19,"v":178,"s":"S"},{"t":50.44,"v":267,"s":"S"},{"t":50.69,"v":178,"s":"S"},{"t":50.94,"v":256,"s":"S"},{"t":51.19,"v":156,"s":"S"},{"t":51.44,"v":222,"s":"S"},{"t":51.69,"v":144,"s":"S"},{"t":51.94,"v":200,"s":"S"},{"t":52.2,"v":122,"s":"S"},{"t":52.45,"v":189,"s":"S"},{"t":52.7,"v":111,"s":"S"},{"t":52.95,"v":178,"s":"S"},{"t":53.2,"v":111,"s":"S"},{"t":53.45,"v":167,"s":"S"},{"t":53.7,"v":89,"s":"S"},{"t":53.95,"v":156,"s":"S"},{"t":54.2,"v":78,"s":"S"},{"t":54.45,"v":33,"s":"S"},{"t":54.7,"v":0,"s":"S"},{"t":56.71,"v":0,"s":"S"},{"t":57.18,"v":63,"s":"S"},{"t":57.4,"v":40,"s":"S"},{"t":57.65,"v":70,"s":"S"},{"t":57.9,"v":45,"s":"S"},{"t":58.16,"v":75,"s":"S"},{"t":58.41,"v":50,"s":"S"},{"t":58.66,"v":78,"s":"S"},{"t":58.91,"v":52,"s":"S"},{"t":59.16,"v":80,"s":"S"},{"t":59.41,"v":55,"s":"S"},{"t":59.66,"v":82,"s":"S"},{"t":59.91,"v":55,"s":"S"},{"t":60.16,"v":85,"s":"S"},{"t":60.41,"v":55,"s":"S"},{"t":60.73,"v":86,"s":"S"},{"t":60.98,"v":55,"s":"S"},{"t":61.23,"v":82,"s":"S"},{"t":61.48,"v":52,"s":"S"},{"t":61.73,"v":80,"s":"S"},{"t":61.98,"v":50,"s":"S"},{"t":62.23,"v":78,"s":"S"},{"t":62.49,"v":48,"s":"S"},{"t":62.74,"v":75,"s":"S"},{"t":62.99,"v":45,"s":"S"},{"t":63.24,"v":75,"s":"S"},{"t":63.49,"v":42,"s":"S"},{"t":63.74,"v":72,"s":"S"},{"t":63.99,"v":40,"s":"S"},{"t":64.24,"v":72,"s":"S"},{"t":64.49,"v":38,"s":"S"},{"t":64.74,"v":70,"s":"S"},{"t":65.0,"v":36,"s":"S"},{"t":65.25,"v":70,"s":"S"},{"t":65.5,"v":36,"s":"S"},{"t":65.75,"v":69,"s":"S"},{"t":66.0,"v":33,"s":"S"},{"t":66.25,"v":65,"s":"S"},{"t":66.5,"v":30,"s":"S"},{"t":66.75,"v":55,"s":"S"},{"t":67.0,"v":20,"s":"S"},{"t":67.25,"v":50,"s":"S"},{"t":67.51,"v":17,"s":"S"},{"t":67.76,"v":45,"s":"S"},{"t":68.01,"v":12,"s":"S"},{"t":68.26,"v":40,"s":"S"},{"t":68.51,"v":8,"s":"S"},{"t":68.76,"v":35,"s":"S"},{"t":69.09,"v":5,"s":"S"},{"t":69.26,"v":0,"s":"S"},{"t":72.4,"v":0,"s":"S"},{"t":72.65,"v":19,"s":"S"},{"t":72.9,"v":5,"s":"S"},{"t":73.15,"v":30,"s":"S"},{"t":73.4,"v":12,"s":"S"},{"t":73.65,"v":36,"s":"S"},{"t":73.9,"v":15,"s":"S"},{"t":74.15,"v":45,"s":"S"},{"t":74.4,"v":20,"s":"S"},{"t":74.65,"v":52,"s":"S"},{"t":74.91,"v":25,"s":"S"},{"t":75.16,"v":55,"s":"S"},{"t":75.41,"v":30,"s":"S"},{"t":75.66,"v":65,"s":"S"},{"t":75.91,"v":35,"s":"S"},{"t":76.16,"v":69,"s":"S"},{"t":76.41,"v":38,"s":"S"},{"t":76.66,"v":70,"s":"S"},{"t":76.91,"v":40,"s":"S"},{"t":77.16,"v":65,"s":"S"},{"t":77.35,"v":45,"s":"S"},{"t":77.58,"v":91,"s":"S"},{"t":77.88,"v":17,"s":"S"},{"t":78.1,"v":45,"s":"S"},{"t":78.29,"v":52,"s":"S"},{"t":78.54,"v":20,"s":"S"},{"t":78.8,"v":40,"s":"S"},{"t":79.05,"v":19,"s":"S"},{"t":79.3,"v":35,"s":"S"},{"t":79.55,"v":10,"s":"S"},{"t":79.8,"v":28,"s":"S"},{"t":80.05,"v":8,"s":"S"},{"t":80.39,"v":13,"s":"S"},{"t":80.55,"v":3,"s":"S"},{"t":80.8,"v":0,"s":"S"},{"t":87.32,"v":0,"s":"S"},{"t":87.92,"v":17,"s":"S"},{"t":88.21,"v":3,"s":"S"},{"t":88.46,"v":12,"s":"S"},{"t":88.71,"v":2,"s":"S"},{"t":88.96,"v":10,"s":"S"},{"t":89.21,"v":0,"s":"S"},{"t":91.97,"v":0,"s":"S"}
],
"c":[
{"t":0,"L":4.00,"S":5.67},{"t":0.5,"L":3.90,"S":5.33},{"t":1,"L":4.20,"S":5.29},{"t":1.5,"L":4.10,"S":5.00},{"t":2,"L":4.37,"S":5.02},{"t":2.5,"L":4.23,"S":4.45},{"t":3,"L":4.50,"S":4.70},{"t":3.5,"L":4.40,"S":4.25},{"t":4,"L":4.70,"S":4.62},{"t":4.5,"L":4.55,"S":4.20},{"t":5,"L":4.78,"S":4.60},{"t":5.5,"L":4.60,"S":4.20},{"t":6,"L":4.80,"S":4.63},{"t":6.5,"L":4.60,"S":4.27},{"t":7,"L":4.80,"S":4.75},{"t":7.5,"L":4.58,"S":4.50},{"t":8,"L":4.74,"S":4.93},{"t":8.5,"L":4.46,"S":4.92},{"t":9,"L":4.62,"S":5.13},{"t":9.5,"L":4.23,"S":5.01},{"t":10,"L":4.29,"S":5.20},{"t":10.5,"L":3.88,"S":5.08},{"t":11,"L":3.92,"S":5.27},{"t":11.5,"L":3.43,"S":5.11},{"t":12,"L":3.42,"S":5.27},{"t":12.5,"L":2.98,"S":5.10},{"t":13,"L":3.11,"S":5.22},{"t":13.5,"L":2.78,"S":5.01},{"t":14,"L":3.05,"S":5.10},{"t":14.5,"L":2.65,"S":4.73},{"t":15,"L":2.87,"S":4.84},{"t":15.5,"L":2.65,"S":4.47},{"t":16,"L":3.07,"S":4.58},{"t":16.5,"L":2.85,"S":4.24},{"t":17,"L":3.18,"S":4.38},{"t":17.5,"L":3.08,"S":4.08},{"t":18,"L":3.28,"S":4.28},{"t":18.5,"L":3.12,"S":4.00},{"t":19,"L":3.28,"S":4.29},{"t":19.5,"L":3.14,"S":4.11},{"t":20,"L":3.34,"S":4.41},{"t":20.5,"L":3.22,"S":4.38},{"t":21,"L":3.40,"S":4.68},{"t":21.5,"L":3.25,"S":4.58},{"t":22,"L":3.43,"S":4.80},{"t":22.5,"L":3.30,"S":4.67},{"t":23,"L":3.49,"S":4.81},{"t":23.5,"L":3.36,"S":4.63},{"t":24,"L":3.52,"S":4.78},{"t":24.5,"L":3.36,"S":4.60},{"t":25,"L":3.50,"S":4.74},{"t":25.5,"L":3.31,"S":4.58},{"t":26,"L":3.45,"S":4.76},{"t":26.5,"L":3.03,"S":4.62},{"t":27,"L":3.15,"S":4.73},{"t":27.5,"L":2.75,"S":4.51},{"t":28,"L":3.05,"S":4.63},{"t":28.5,"L":2.74,"S":4.22},{"t":29,"L":3.03,"S":4.40},{"t":29.5,"L":2.72,"S":3.95},{"t":30,"L":3.02,"S":4.10},{"t":30.5,"L":2.75,"S":3.65},{"t":31,"L":3.08,"S":3.84},{"t":31.5,"L":2.81,"S":3.43},{"t":32,"L":3.13,"S":3.65},{"t":32.5,"L":2.85,"S":3.27},{"t":33,"L":3.18,"S":3.52},{"t":33.5,"L":2.91,"S":3.19},{"t":34,"L":3.25,"S":3.45},{"t":34.5,"L":2.97,"S":3.11},{"t":35,"L":3.29,"S":3.37},{"t":35.5,"L":3.01,"S":3.03},{"t":36,"L":3.28,"S":3.30},{"t":36.5,"L":3.10,"S":3.08},{"t":37,"L":3.30,"S":3.48},{"t":37.5,"L":3.10,"S":3.30},{"t":38,"L":3.25,"S":3.68},{"t":38.5,"L":2.98,"S":3.68},{"t":39,"L":3.35,"S":4.19},{"t":39.5,"L":2.50,"S":4.18},{"t":40,"L":3.05,"S":4.65},{"t":40.5,"L":2.15,"S":4.63},{"t":41,"L":2.60,"S":4.98},{"t":41.5,"L":1.70,"S":4.83},{"t":42,"L":2.33,"S":5.10},{"t":42.5,"L":1.60,"S":4.83},{"t":43,"L":2.27,"S":5.03},{"t":43.5,"L":1.55,"S":4.72},{"t":44,"L":2.35,"S":4.90},{"t":44.5,"L":1.75,"S":4.62},{"t":45,"L":2.31,"S":4.78},{"t":45.5,"L":2.03,"S":4.46},{"t":46,"L":2.35,"S":4.58},{"t":46.5,"L":2.07,"S":4.26},{"t":47,"L":2.38,"S":4.34},{"t":47.5,"L":2.12,"S":4.00},{"t":48,"L":2.45,"S":4.07},{"t":48.5,"L":2.19,"S":3.72},{"t":49,"L":2.52,"S":3.79},{"t":49.5,"L":2.25,"S":3.60},{"t":50,"L":2.57,"S":3.82},{"t":50.5,"L":2.30,"S":3.66},{"t":51,"L":2.62,"S":3.94},{"t":51.5,"L":2.33,"S":3.82},{"t":52,"L":2.65,"S":4.08},{"t":52.5,"L":2.36,"S":3.94},{"t":53,"L":2.67,"S":4.20},{"t":53.5,"L":2.37,"S":4.08},{"t":54,"L":2.65,"S":4.36},{"t":54.5,"L":2.32,"S":4.34},{"t":55,"L":2.56,"S":4.73},{"t":55.5,"L":2.28,"S":4.80},{"t":56,"L":2.45,"S":5.35},{"t":56.5,"L":2.15,"S":5.27},{"t":57,"L":2.33,"S":5.55},{"t":57.5,"L":2.05,"S":5.10},{"t":58,"L":2.24,"S":5.17},{"t":58.5,"L":1.96,"S":4.71},{"t":59,"L":2.17,"S":4.85},{"t":59.5,"L":1.91,"S":4.40},{"t":60,"L":2.15,"S":4.55},{"t":60.5,"L":1.91,"S":4.09},{"t":61,"L":2.15,"S":4.23},{"t":61.5,"L":1.91,"S":3.78},{"t":62,"L":2.17,"S":3.93},{"t":62.5,"L":1.96,"S":3.47},{"t":63,"L":2.22,"S":3.61},{"t":63.5,"L":2.00,"S":3.22},{"t":64,"L":2.26,"S":3.48},{"t":64.5,"L":2.04,"S":3.15},{"t":65,"L":2.29,"S":3.49},{"t":65.5,"L":2.06,"S":3.22},{"t":66,"L":2.30,"S":3.50},{"t":66.5,"L":2.06,"S":3.50},{"t":67,"L":2.30,"S":3.74},{"t":67.5,"L":2.06,"S":3.78},{"t":68,"L":2.29,"S":4.05},{"t":68.5,"L":2.01,"S":4.07},{"t":69,"L":2.21,"S":4.28},{"t":69.5,"L":1.93,"S":4.25},{"t":70,"L":2.32,"S":4.39},{"t":70.5,"L":1.64,"S":4.29},{"t":71,"L":2.15,"S":4.42},{"t":71.5,"L":1.46,"S":4.30},{"t":72,"L":1.90,"S":4.42},{"t":72.5,"L":1.14,"S":4.30},{"t":73,"L":1.67,"S":4.38},{"t":73.5,"L":1.02,"S":4.22},{"t":74,"L":1.60,"S":4.27},{"t":74.5,"L":1.07,"S":4.08},{"t":75,"L":1.75,"S":4.26},{"t":75.5,"L":1.22,"S":3.70},{"t":76,"L":1.90,"S":3.94},{"t":76.5,"L":1.37,"S":3.40},{"t":77,"L":2.04,"S":3.68},{"t":77.5,"L":1.52,"S":3.17},{"t":78,"L":1.97,"S":3.40},{"t":78.5,"L":1.91,"S":2.93},{"t":79,"L":2.17,"S":3.45},{"t":79.5,"L":2.15,"S":3.17},{"t":80,"L":2.40,"S":3.75},{"t":80.5,"L":2.38,"S":3.50},{"t":81,"L":2.64,"S":3.90},{"t":81.5,"L":2.59,"S":3.90},{"t":82,"L":2.78,"S":4.11},{"t":82.5,"L":2.69,"S":4.04},{"t":83,"L":2.88,"S":4.16},{"t":83.5,"L":2.79,"S":4.07},{"t":84,"L":2.87,"S":4.16},{"t":84.5,"L":2.65,"S":4.05},{"t":85,"L":2.69,"S":4.15},{"t":85.5,"L":2.46,"S":4.04},{"t":86,"L":2.68,"S":4.13},{"t":86.5,"L":2.03,"S":4.02},{"t":87,"L":2.37,"S":4.11},{"t":87.5,"L":1.81,"S":4.00},{"t":88,"L":2.27,"S":4.09},{"t":88.5,"L":1.76,"S":3.95},{"t":89,"L":2.32,"S":4.06},{"t":89.5,"L":1.87,"S":3.98},{"t":90,"L":2.41,"S":4.38},{"t":90.5,"L":1.95,"S":4.25},{"t":91,"L":2.55,"S":4.59},{"t":91.5,"L":2.17,"S":4.48},{"t":92,"L":2.80,"S":4.78}
]},
"vconcat":[
{"width":733,"height":241,
"encoding":{"x":{"field":"t","type":"quantitative","scale":{"domain":[1.1,93.1],"nice":false,"zero":false},"axis":{"values":[18,36,54,72,90],"labels":false,"title":null}},
"y":{"field":"v","type":"quantitative","stack":null,"scale":{"domain":[0,10],"nice":false},"axis":{"values":[0,2,4,6,8,10],"labelOverlap":false,"title":"Discharge ( 10³ m³/s )","titleX":-42}}},
"layer":[
{"data":{"name":"a"},"transform":[{"filter":"datum.s=='L'"}],"mark":{"type":"area","interpolate":"linear","clip":true},
"encoding":{"color":{"field":"s","type":"nominal","scale":{"domain":["L","S"],"range":["#6d98da","#ef9f78"]},"legend":{"orient":"none","legendX":412,"legendY":7,"title":null,"symbolType":"square","symbolSize":361,"symbolStrokeWidth":0,"symbolOpacity":1,"rowPadding":1,"labelOffset":8,"labelFontSize":18,"labelLimit":400,"labelExpr":"datum.value=='L'?'Large-scale effluent event in 2020':'Small-scale effluent event in 2002'"}}}},
{"data":{"name":"a"},"transform":[{"filter":"datum.s=='S'"}],"mark":{"type":"area","interpolate":"linear","clip":true},
"encoding":{"color":{"field":"s","type":"nominal"}}},
{"data":{"values":[{"t":2.45,"v":9.68,"lab":"a)"}]},"mark":{"type":"text","align":"left","baseline":"top","fontSize":20,"color":"#1a1a1a"},
"encoding":{"text":{"field":"lab"}}}
]},
{"width":733,"height":240,
"encoding":{"x":{"field":"t","type":"quantitative","scale":{"domain":[0,92],"nice":false,"zero":false},"axis":{"values":[0,18,36,54,72,90],"labels":false,"title":null}},
"y":{"field":"v","type":"quantitative","scale":{"domain":[0,800],"nice":false},"axis":{"values":[0,200,400,600,800],"labelOverlap":false,"title":"SI ( J/m³ )","titleX":-42}}},
"layer":[
{"data":{"name":"b"},"mark":{"type":"line","strokeWidth":1.3,"clip":true},
"encoding":{"color":{"field":"s","type":"nominal","scale":{"domain":["L","S"],"range":["#6d98da","#ef9f78"]},"legend":{"orient":"none","legendX":412,"legendY":7,"title":null,"symbolType":"stroke","symbolSize":300,"symbolStrokeWidth":1.5,"rowPadding":2,"labelOffset":8,"labelFontSize":18,"labelLimit":400,"labelExpr":"datum.value=='L'?'Large-scale effluent event in 2020':'Small-scale effluent event in 2002'"}}}},
{"data":{"values":[{"t":1.3,"v":772,"lab":"b)"}]},"mark":{"type":"text","align":"left","baseline":"top","fontSize":20,"color":"#1a1a1a"},
"encoding":{"text":{"field":"lab"}}}
]},
{"width":733,"height":240,
"encoding":{"x":{"field":"t","type":"quantitative","scale":{"domain":[0,92],"nice":false,"zero":false},"axis":{"values":[0,18,36,54,72,90],"labelOverlap":false,"title":null,"labelExpr":"['Jun/01','Jun/19','Jul/07','Jul/25','Aug/12','Aug/30'][round(datum.value/18)]"}},
"y":{"field":"v","type":"quantitative","scale":{"domain":[0,7],"nice":false},"axis":{"values":[0,1,2,3,4,5,6,7],"labelOverlap":false,"title":"DO ( mg/L )","titleX":-42}}},
"layer":[
{"data":{"name":"c"},"transform":[{"fold":["L","S"],"as":["s","v"]}],"mark":{"type":"line","strokeWidth":1.3,"clip":true},
"encoding":{"color":{"field":"s","type":"nominal","scale":{"domain":["L","S"],"range":["#6d98da","#ef9f78"]},"legend":null}}},
{"data":{"values":[{"t":1.3,"v":6.72,"lab":"c)"}]},"mark":{"type":"text","align":"left","baseline":"top","fontSize":20,"color":"#1a1a1a"},
"encoding":{"text":{"field":"lab"}}}
]}
]
}
